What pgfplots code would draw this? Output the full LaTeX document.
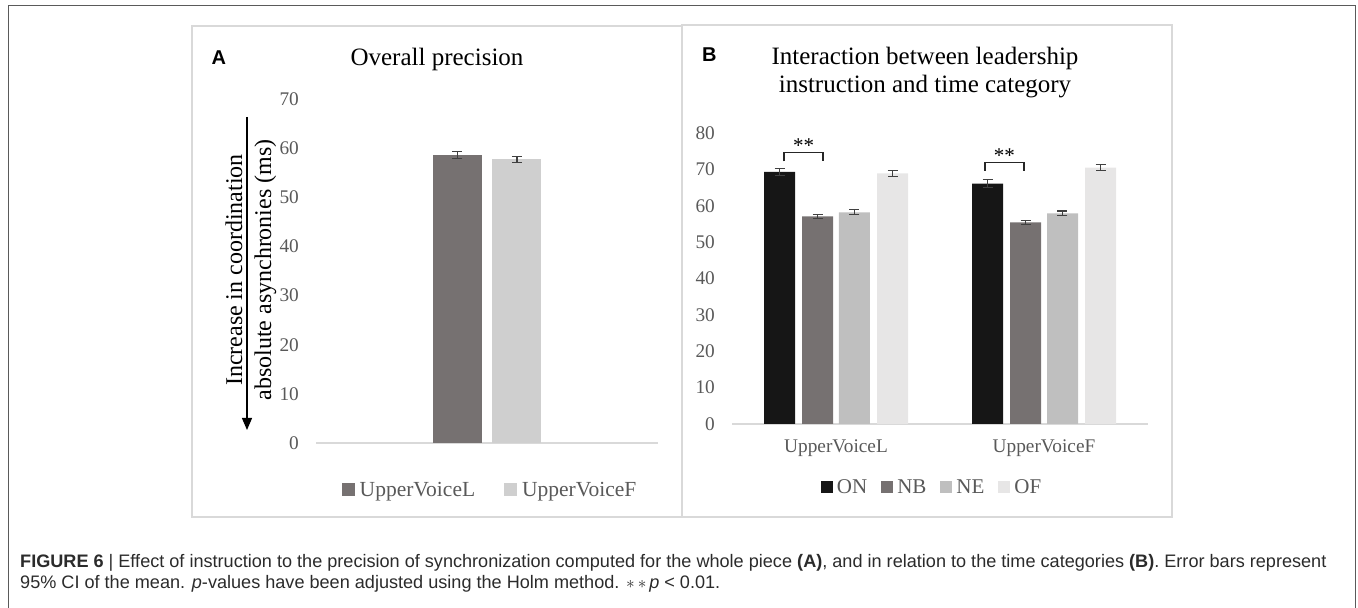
\documentclass[border=0pt]{standalone}
\usepackage{fontspec}
\setmainfont{Liberation Serif}
\newfontfamily\sansf{Liberation Sans}
\usepackage{pgfplots}
\pgfplotsset{compat=1.18}
\usetikzlibrary{arrows.meta}

\definecolor{cON}{HTML}{161616}
\definecolor{cNB}{HTML}{767171}
\definecolor{cNE}{HTML}{BFBFBF}
\definecolor{cOF}{HTML}{E7E6E6}
\definecolor{cUL}{HTML}{767171}
\definecolor{cUF}{HTML}{CFCFCF}
\definecolor{tickgray}{HTML}{595959}
\definecolor{axgray}{HTML}{D9D9D9}
\definecolor{errgray}{HTML}{404040}
\definecolor{boxgray}{HTML}{D9D9D9}
\definecolor{outergray}{HTML}{5A5A5A}
\definecolor{captext}{HTML}{2B2B2B}

\newcommand{\fs}[2]{\fontsize{#1}{#2}\selectfont}

\pgfplotsset{
  panel/.style={
    scale only axis,
    clip=false,
    axis x line*=bottom, axis y line*=left,
    x axis line style={-, draw=axgray, line width=1.3pt},
    y axis line style={draw=none},
    major tick length=0pt,
    tick style={draw=none},
    ymin=0,
    /pgf/number format/assume math mode=true,
    yticklabel style={font=\fs{19.3}{20}, text=tickgray, anchor=east, inner sep=0pt, xshift=-17pt},
    xticklabel style={font=\fs{19.3}{20}, text=tickgray, anchor=base, inner sep=0pt, yshift=-29pt},
    legend style={draw=none, fill=none, text=tickgray, legend columns=-1, inner sep=0pt, anchor=center},
  },
  sqA/.style={legend image code/.code={\fill[##1] (0pt,-6.5pt) rectangle (13pt,6.5pt); \path (16pt,0pt);}},
  sqB/.style={legend image code/.code={\fill[##1] (0pt,-6pt) rectangle (12pt,6pt); \path (14pt,0pt);}},
  errs/.style={error bars/.cd, y dir=both, y explicit,
    error bar style={line width=1.1pt, draw=errgray},
    error mark options={rotate=90, line width=1.1pt, draw=errgray, mark size=5pt}},
}

\begin{document}
\begin{tikzpicture}[x=1pt,y=1pt]
\useasboundingbox (0,0) rectangle (1358,608);

% outer frame
\draw[outergray, line width=1pt] (8,0) -- (8,602) -- (1355,602) -- (1355,0);
% panel frames
\draw[boxgray, line width=1.3pt] (192,91) rectangle (682,582);
\draw[boxgray, line width=1.3pt] (682,91) rectangle (1172,583);

% ---------- Panel A ----------
\begin{axis}[panel,
  at={(316pt,165pt)}, anchor=south west,
  width=342pt, height=344pt,
  xmin=-0.5, xmax=0.5, xtick=\empty,
  ymax=70, ytick={0,10,...,70},
  legend style={font=\fs{21.5}{22}, at={(0.509,-0.1366)}, /tikz/every even column/.append style={column sep=27pt}},
]
\addplot[ybar, bar width=49pt, bar shift=0pt, fill=cUL, draw=none, sqA, errs]
  coordinates {(-0.0863,58.6) +- (0,0.68)};
\addplot[ybar, bar width=49pt, bar shift=0pt, fill=cUF, draw=none, sqA, errs]
  coordinates {(0.0877,57.7) +- (0,0.65)};
\legend{UpperVoiceL,UpperVoiceF}
\end{axis}

\node[anchor=base west, inner sep=0pt, font=\sansf\bfseries\fs{20}{22}] at (211.5,543) {A};
\node[anchor=base, inner sep=0pt, font=\fs{25}{27}] at (437,542) {Overall precision};
\node[anchor=base, inner sep=0pt, rotate=90, font=\fs{24}{29}] at (242,338) {Increase in coordination};
\node[anchor=base, inner sep=0pt, rotate=90, font=\fs{24}{29}] at (271,338) {absolute asynchronies (ms)};
\draw[-{Triangle[length=12pt,width=10pt]}, line width=1.2pt] (247,491) -- (247,178);

% ---------- Panel B ----------
\begin{axis}[panel,
  at={(732pt,184pt)}, anchor=south west,
  width=416pt, height=291pt,
  xmin=-0.5, xmax=1.5, xtick={0,1}, xticklabels={UpperVoiceL,UpperVoiceF},
  ymax=80, ytick={0,10,...,80},
  legend style={font=\fs{21}{22}, at={(0.481,-0.2165)}, /tikz/every even column/.append style={column sep=12pt}},
]
\addplot[ybar, bar width=31pt, bar shift=0pt, fill=cON, draw=none, sqB, errs]
  coordinates {(-0.2716,69.3) +- (0,1.0) (0.7284,66.1) +- (0,1.05)};
\addplot[ybar, bar width=31pt, bar shift=0pt, fill=cNB, draw=none, sqB, errs]
  coordinates {(-0.0889,57.1) +- (0,0.6) (0.9111,55.4) +- (0,0.55)};
\addplot[ybar, bar width=31pt, bar shift=0pt, fill=cNE, draw=none, sqB, errs]
  coordinates {(0.0889,58.2) +- (0,0.65) (1.0889,57.9) +- (0,0.65)};
\addplot[ybar, bar width=31pt, bar shift=0pt, fill=cOF, draw=none, sqB, errs]
  coordinates {(0.2716,68.9) +- (0,0.75) (1.2716,70.5) +- (0,0.8)};
\legend{ON,NB,NE,OF}
\draw[line width=1.3pt, draw=black!85] (axis cs:-0.25,72.2) -- (axis cs:-0.25,74.6) -- (axis cs:-0.0625,74.6) -- (axis cs:-0.0625,72.2);
\node[inner sep=0pt, font=\fs{21}{22}] at (axis cs:-0.156,76.5) {**};
\draw[line width=1.3pt, draw=black!85] (axis cs:0.716,69.6) -- (axis cs:0.716,71.9) -- (axis cs:0.904,71.9) -- (axis cs:0.904,69.6);
\node[inner sep=0pt, font=\fs{21}{22}] at (axis cs:0.81,73.9) {**};
\end{axis}

\node[anchor=base west, inner sep=0pt, font=\sansf\bfseries\fs{20}{22}] at (702,546.3) {B};
\node[anchor=base, inner sep=0pt, font=\fs{25}{27}] at (925,543) {Interaction between leadership};
\node[anchor=base, inner sep=0pt, font=\fs{25}{27}] at (925,515.3) {instruction and time category};

% ---------- Caption ----------
\node[anchor=base west, inner sep=0pt, font=\sansf\fs{18.1}{21}, text=captext] at (20,40)
  {\textbf{FIGURE 6} | Effect of instruction to the precision of synchronization computed for the whole piece \textbf{(A)}, and in relation to the time categories \textbf{(B)}. Error bars represent};
\node[anchor=base west, inner sep=0pt, font=\sansf\fs{18.1}{21}, text=captext] at (20,19)
  {95\% CI of the mean. \textit{p}-values have been adjusted using the Holm method. $\ast\,\ast\,$\textit{p} < 0.01.};
\end{tikzpicture}
\end{document}
